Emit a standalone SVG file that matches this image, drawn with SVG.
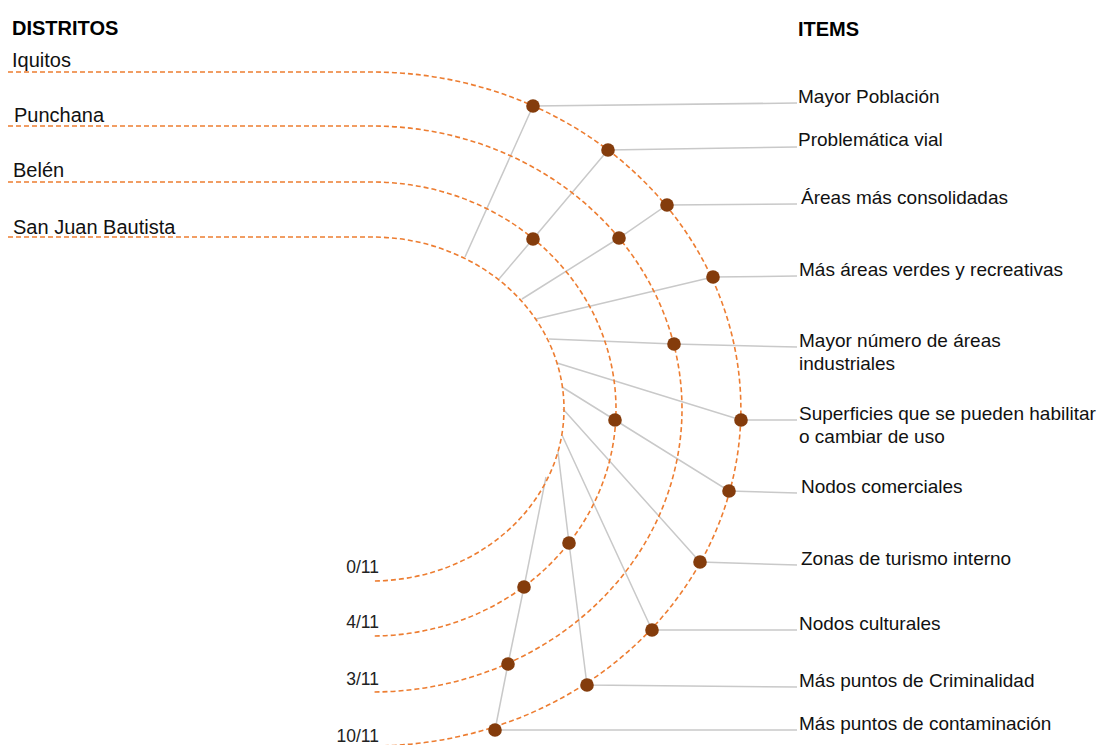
<svg xmlns="http://www.w3.org/2000/svg" width="1098" height="745" viewBox="0 0 1098 745">
<style>
.arc{fill:none;stroke:#ED7D31;stroke-width:1.6;stroke-dasharray:5 3}
.con{fill:none;stroke:#C9C9C9;stroke-width:1.5}
.dot{fill:#843C0C}
.lbl{font-family:"Liberation Sans",Arial,sans-serif;font-size:20px;fill:#111}
.itm{font-family:"Liberation Sans",Arial,sans-serif;font-size:19px;fill:#111}
.hdr{font-family:"Liberation Sans",Arial,sans-serif;font-size:20px;font-weight:bold;fill:#000}
.frac{font-family:"Liberation Sans",Arial,sans-serif;font-size:17.5px;fill:#222;text-anchor:end}
</style>
<rect width="1098" height="745" fill="#fff"/>
<text class="hdr" x="12" y="35">DISTRITOS</text>
<text class="hdr" x="798" y="36">ITEMS</text>

<g id="connectors">
<path class="con" d="M797,103 L533,106 L465,257"/>
<path class="con" d="M797,147 L608,150 L533,239 L499,279"/>
<path class="con" d="M797,204 L667,205 L619,238 L522,299"/>
<path class="con" d="M797,276 L713,277 L536,319"/>
<path class="con" d="M797,347 L674,344 L549,339"/>
<path class="con" d="M797,420 L741,420 L557,363"/>
<path class="con" d="M797,493 L729,491 L615,420 L562,387"/>
<path class="con" d="M797,565 L700,562 L563,409"/>
<path class="con" d="M797,630 L652,630 L562,435"/>
<path class="con" d="M797,687 L587,685 L569,543 L558,452"/>
<path class="con" d="M797,730 L495,730 L508,664 L524,587 L546,477"/>
</g>

<g id="district-iquitos">
<text class="lbl" x="12" y="67">Iquitos</text>
<path class="arc" d="M8,72 H372 A369,337 0 0 1 372,746"/>
<text class="frac" x="379" y="742">10/11</text>
</g>
<g id="district-punchana">
<text class="lbl" x="14" y="122">Punchana</text>
<path class="arc" d="M8,126 H372 A310,283 0 0 1 372,692"/>
<text class="frac" x="379" y="685">3/11</text>
</g>
<g id="district-belen">
<text class="lbl" x="13" y="177">Belén</text>
<path class="arc" d="M8,182 H372 A244,227 0 0 1 372,636"/>
<text class="frac" x="379" y="628">4/11</text>
</g>
<g id="district-sanjuan">
<text class="lbl" x="13" y="234">San Juan Bautista</text>
<path class="arc" d="M8,237 H372 A192,172 0 0 1 372,581"/>
<text class="frac" x="379" y="573">0/11</text>
</g>

<g id="dots">
<circle class="dot" cx="533" cy="106" r="6.8"/>
<circle class="dot" cx="608" cy="150" r="6.8"/>
<circle class="dot" cx="667" cy="205" r="6.8"/>
<circle class="dot" cx="713" cy="277" r="6.8"/>
<circle class="dot" cx="741" cy="420" r="6.8"/>
<circle class="dot" cx="729" cy="491" r="6.8"/>
<circle class="dot" cx="700" cy="562" r="6.8"/>
<circle class="dot" cx="652" cy="630" r="6.8"/>
<circle class="dot" cx="587" cy="685" r="6.8"/>
<circle class="dot" cx="495" cy="730" r="6.8"/>
<circle class="dot" cx="619" cy="238" r="6.8"/>
<circle class="dot" cx="674" cy="344" r="6.8"/>
<circle class="dot" cx="508" cy="664" r="6.8"/>
<circle class="dot" cx="533" cy="239" r="6.8"/>
<circle class="dot" cx="615" cy="420" r="6.8"/>
<circle class="dot" cx="569" cy="543" r="6.8"/>
<circle class="dot" cx="524" cy="587" r="6.8"/>
</g>

<g id="item-poblacion"><text class="itm" x="798" y="103">Mayor Población</text></g>
<g id="item-vial"><text class="itm" x="798" y="146">Problemática vial</text></g>
<g id="item-consolidadas"><text class="itm" x="801" y="204">Áreas más consolidadas</text></g>
<g id="item-verdes"><text class="itm" x="799" y="276">Más áreas verdes y recreativas</text></g>
<g id="item-industriales"><text class="itm" x="799" y="347">Mayor número de áreas</text><text class="itm" x="799" y="370">industriales</text></g>
<g id="item-superficies"><text class="itm" x="799" y="420">Superficies que se pueden habilitar</text><text class="itm" x="799" y="443">o cambiar de uso</text></g>
<g id="item-comerciales"><text class="itm" x="801" y="493">Nodos comerciales</text></g>
<g id="item-turismo"><text class="itm" x="801" y="565">Zonas de turismo interno</text></g>
<g id="item-culturales"><text class="itm" x="799" y="630">Nodos culturales</text></g>
<g id="item-criminalidad"><text class="itm" x="799" y="687">Más puntos de Criminalidad</text></g>
<g id="item-contaminacion"><text class="itm" x="799" y="730">Más puntos de contaminación</text></g>
</svg>
